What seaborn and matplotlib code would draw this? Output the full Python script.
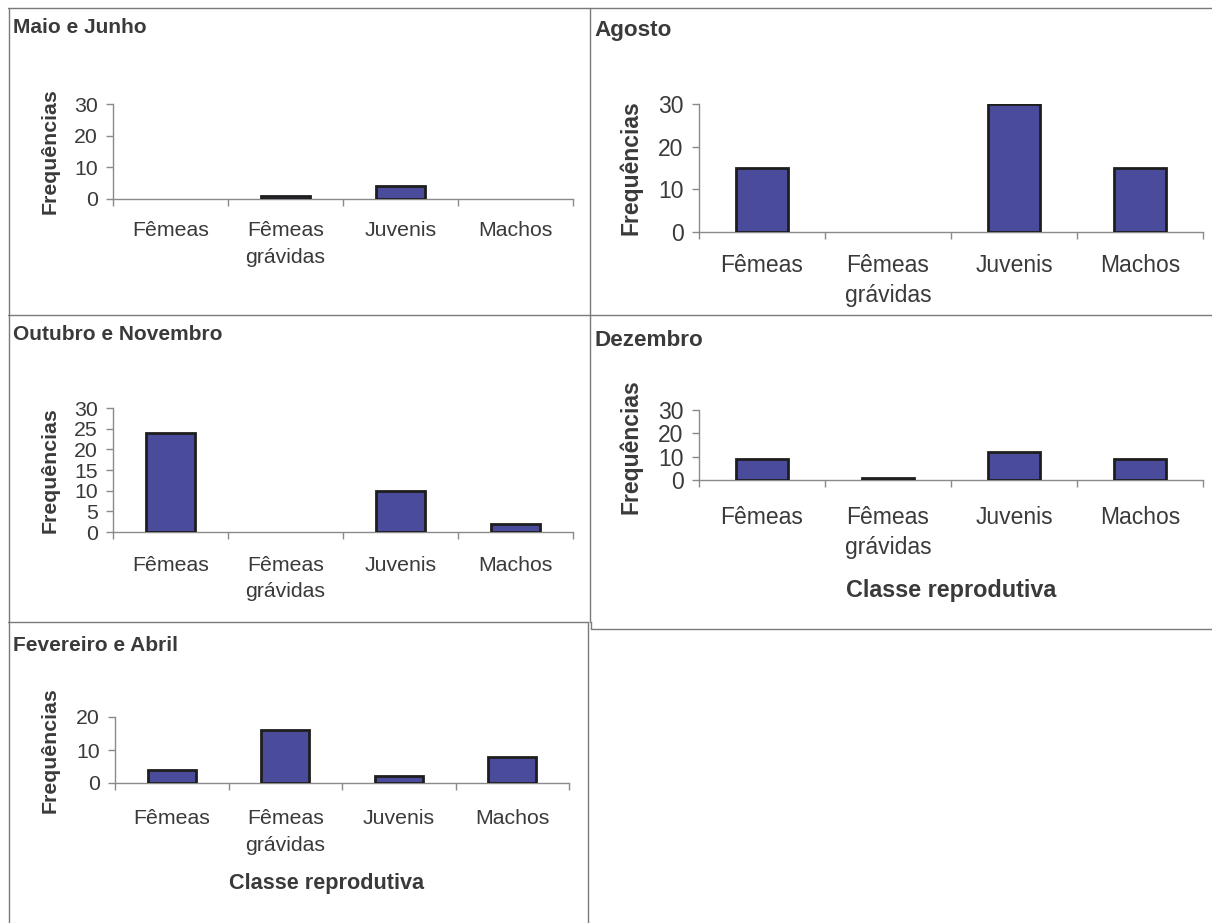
import matplotlib
matplotlib.use("Agg")
import matplotlib.pyplot as plt
import seaborn as sns
from matplotlib.lines import Line2D

# Reproductive classes and monthly frequencies
categories = ["Fêmeas", "Fêmeas\ngrávidas", "Juvenis", "Machos"]
maio_junho = [0, 1, 4, 0]
agosto = [15, 0, 30, 15]
outubro_novembro = [24, 0, 10, 2]
dezembro = [9, 1, 12, 9]
fevereiro_abril = [4, 16, 2, 8]

titles = ["Maio e Junho", "Agosto", "Outubro e Novembro", "Dezembro", "Fevereiro e Abril"]
y_ticks_30 = [0, 10, 20, 30]
y_ticks_30_fine = [0, 5, 10, 15, 20, 25, 30]
y_ticks_20 = [0, 10, 20]
y_label = "Frequências"
x_label = "Classe reprodutiva"

W, H = 1212, 923
BAR = "#4b4b9c"
EDGE = "#1e1e1e"
TEXT = "#3a3a3a"
AXIS = "#8a8a8a"
FRAME = "#7a7a7a"

sns.set_theme(style="white")
plt.rcParams["font.family"] = ["Liberation Sans", "DejaVu Sans"]

fig = plt.figure(figsize=(W / 100, H / 100), dpi=100)
fig.patch.set_facecolor("white")


def fx(x):
    return x / W


def fy(y):
    return 1 - y / H


# layout in pixels: axes box (left, top, right, bottom), title baseline,
# y-label centre, x-label centre, font sizes, x tick pad, label line spacing
panels = [
    dict(values=maio_junho, title=titles[0], ticks=y_ticks_30, ymax=30,
         box=(113, 104, 573, 199), title_xy=(13, 33), ylab_xy=(50, 151),
         xlab_xy=None, fs=15.3, tfs=15, xpad=16, ls=1.5),
    dict(values=agosto, title=titles[1], ticks=y_ticks_30, ymax=30,
         box=(699, 104, 1203, 232), title_xy=(594, 36), ylab_xy=(631, 168),
         xlab_xy=None, fs=16.5, tfs=16.2, xpad=16, ls=1.4),
    dict(values=outubro_novembro, title=titles[2], ticks=y_ticks_30_fine, ymax=30,
         box=(113, 408, 573, 532), title_xy=(13, 340), ylab_xy=(50, 470),
         xlab_xy=None, fs=15.3, tfs=15, xpad=17, ls=1.5),
    dict(values=dezembro, title=titles[3], ticks=y_ticks_30, ymax=30,
         box=(699, 410, 1203, 480), title_xy=(594, 346), ylab_xy=(631, 447),
         xlab_xy=(951, 590), fs=16.5, tfs=16.2, xpad=19, ls=1.35),
    dict(values=fevereiro_abril, title=titles[4], ticks=y_ticks_20, ymax=20,
         box=(115, 717, 569, 783), title_xy=(13, 651), ylab_xy=(50, 750),
         xlab_xy=(327, 883), fs=15.3, tfs=15, xpad=19, ls=1.5),
]

for p in panels:
    l, t, r, b = p["box"]
    ax = fig.add_axes([fx(l), fy(b), (r - l) / W, (b - t) / H])
    sns.barplot(x=categories, y=p["values"], ax=ax, color=BAR, saturation=1,
                edgecolor=EDGE, linewidth=2.0, width=0.42, zorder=3)
    for bar in ax.patches:
        if bar.get_height() == 0:
            bar.set_linewidth(0)

    ax.set_xlim(-0.5, 3.5)
    ax.set_ylim(0, p["ymax"])
    ax.set_yticks(p["ticks"])
    ax.set_xticks([i - 0.5 for i in range(5)], minor=True)
    ax.set_facecolor("none")
    ax.grid(False)

    for side in ("top", "right"):
        ax.spines[side].set_visible(False)
    for side in ("left", "bottom"):
        ax.spines[side].set_color(AXIS)
        ax.spines[side].set_linewidth(1.0)

    ax.tick_params(axis="x", which="major", length=0, pad=p["xpad"],
                   labelsize=p["fs"], labelcolor=TEXT)
    ax.tick_params(axis="x", which="minor", bottom=True, direction="out",
                   length=5, width=1, color=AXIS)
    ax.tick_params(axis="y", which="major", left=True, direction="out",
                   length=5, width=1, color=AXIS, pad=6,
                   labelsize=p["fs"], labelcolor=TEXT)
    for lab in ax.get_xticklabels():
        lab.set_linespacing(p["ls"])

    ax.set_ylabel(y_label, fontsize=p["fs"], fontweight="bold", color=TEXT)
    ax.yaxis.set_label_coords(fx(p["ylab_xy"][0]), fy(p["ylab_xy"][1]),
                              transform=fig.transFigure)
    ax.yaxis.label.set_va("center")

    if p["xlab_xy"] is not None:
        ax.set_xlabel(x_label, fontsize=p["fs"] + 0.3, fontweight="bold", color=TEXT)
        ax.xaxis.set_label_coords(fx(p["xlab_xy"][0]), fy(p["xlab_xy"][1]),
                                  transform=fig.transFigure)
        ax.xaxis.label.set_va("center")
    else:
        ax.set_xlabel("")

    fig.text(fx(p["title_xy"][0]), fy(p["title_xy"][1]), p["title"],
             fontsize=p["tfs"], fontweight="bold", color=TEXT,
             ha="left", va="baseline")

# panel frames
frame_lines = [
    ((8, 1212), (8, 8)),
    ((9, 9), (8, 923)),
    ((8, 1212), (315, 315)),
    ((590, 590), (8, 622)),
    ((8, 588), (622, 622)),
    ((588, 588), (622, 923)),
    ((590, 591), (622, 622)),
    ((591, 591), (622, 629)),
    ((591, 1212), (629, 629)),
]
for xs, ys in frame_lines:
    fig.add_artist(Line2D([fx(xs[0]), fx(xs[1])], [fy(ys[0]), fy(ys[1])],
                          color=FRAME, linewidth=1.0, transform=fig.transFigure))

fig.savefig("out.png", dpi=100, facecolor="white")
